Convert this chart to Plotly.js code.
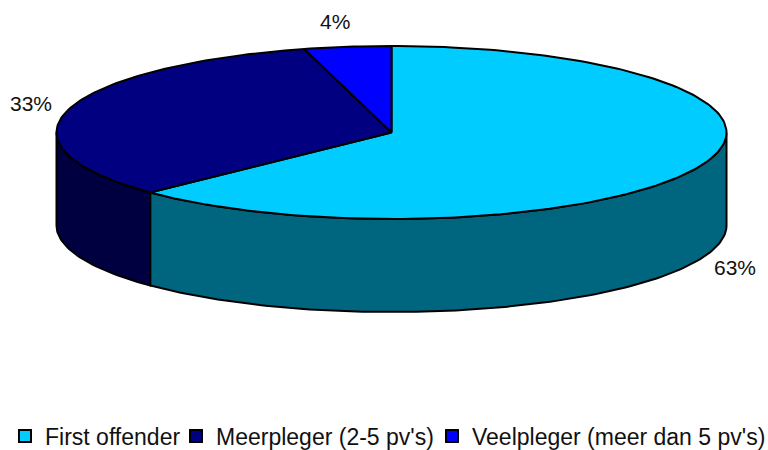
<!DOCTYPE html>
<html>
<head>
<meta charset="utf-8">
<script src="https://cdn.plot.ly/plotly-3.0.1.min.js"></script>
<style>html,body{margin:0;padding:0;background:#fff}</style>
</head>
<body>
<div id="chart" style="width:768px;height:450px"></div>
<script>
// chart values
var categories = ["First offender", "Meerpleger (2-5 pv's)", "Veelpleger (meer dan 5 pv's)"];
var shares = [62.8, 33, 4.2];
var shareLabels = ["63%", "33%", "4%"];

// colours for the top and the side of each slice
var topColors = ["#00CCFF", "#000080", "#0000FF"];
var sideColors = ["#006680", "#000040", "#000080"];

// pie shape, in the axis units (the axes run 1:1 with the page)
var cx = 391.5, cy = 132.5, rx = 335, ry = 86.5, depth = 93;

function rimX(t) { return cx + rx * Math.sin(t); }
function rimY(t) { return cy - ry * Math.cos(t); }

function arc(t1, t2) {
  var n = Math.max(2, Math.ceil(Math.abs(t2 - t1) / 0.02)), pts = [];
  for (var i = 0; i <= n; i++) pts.push(t1 + (t2 - t1) * i / n);
  return pts;
}

var total = shares.reduce((a, b) => a + b, 0);
var sideTraces = [], topTraces = [], legendTraces = [];
var start = 0;

shares.forEach(function (value, i) {
  var end = start + value / total * 2 * Math.PI;

  // top face: wedge from the centre
  var top = arc(start, end);
  topTraces.push({
    x: [cx].concat(top.map(rimX), [cx]),
    y: [cy].concat(top.map(rimY), [cy]),
    mode: "lines", fill: "toself", fillcolor: topColors[i],
    line: { color: "#000", width: 2 }, hoverinfo: "skip", showlegend: false
  });

  // side wall: only the part that faces the viewer
  var a = Math.max(start, Math.PI / 2), b = Math.min(end, 3 * Math.PI / 2);
  if (b > a) {
    var wall = arc(a, b);
    sideTraces.push({
      x: wall.map(rimX).concat(wall.slice().reverse().map(rimX), [rimX(a)]),
      y: wall.map(rimY).concat(wall.slice().reverse().map(t => rimY(t) + depth), [rimY(a)]),
      mode: "lines", fill: "toself", fillcolor: sideColors[i],
      line: { color: "#000", width: 2 }, hoverinfo: "skip", showlegend: false
    });
  }

  // legend swatch, one legend per entry so each can sit at its own place
  legendTraces.push({
    x: [null], y: [null], mode: "markers", name: categories[i],
    legend: i === 0 ? "legend" : "legend" + (i + 1),
    marker: { symbol: "square", size: 13, color: topColors[i], line: { color: "#000", width: 1.5 } }
  });

  start = end;
});

var labelX = [735, 31, 335];
var labelY = [267, 103, 21];
var labelFont = { family: "Liberation Sans, Arial, sans-serif", size: 21, color: "#111" };
var legendFont = { family: "Liberation Sans, Arial, sans-serif", size: 23, color: "#111" };

function legendAt(x) {
  return { x: x / 768, y: 14 / 450, xanchor: "left", yanchor: "middle", bgcolor: "rgba(0,0,0,0)", font: legendFont, itemsizing: "constant" };
}

var layout = {
  width: 768, height: 450,
  margin: { l: 0, r: 0, t: 0, b: 0, autoexpand: false },
  paper_bgcolor: "#fff", plot_bgcolor: "#fff",
  xaxis: { range: [0, 768], visible: false, fixedrange: true },
  yaxis: { range: [450, 0], visible: false, fixedrange: true },
  showlegend: true,
  legend: legendAt(5),
  legend2: legendAt(176),
  legend3: legendAt(432),
  annotations: shareLabels.map((t, i) => ({
    x: labelX[i], y: labelY[i], text: t, showarrow: false, font: labelFont, xanchor: "center", yanchor: "middle"
  }))
};

Plotly.newPlot("chart", sideTraces.concat(topTraces, legendTraces), layout, { displayModeBar: false });
</script>
</body>
</html>
